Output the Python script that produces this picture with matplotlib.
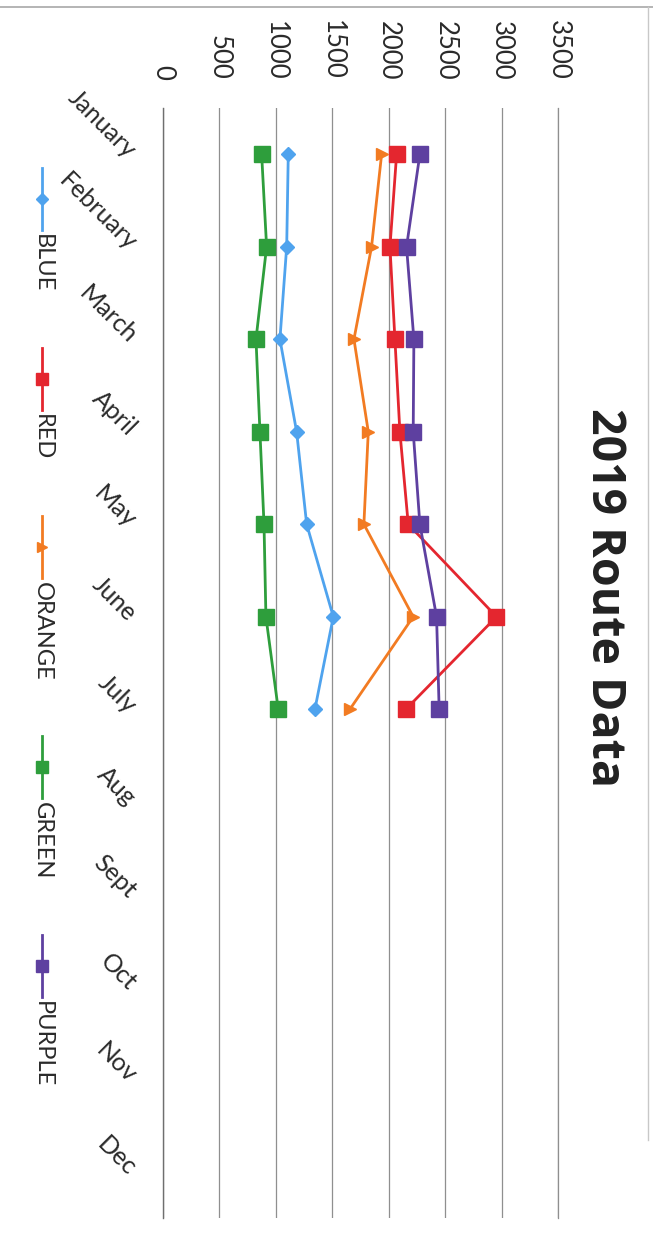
import matplotlib
matplotlib.use("Agg")
import matplotlib.pyplot as plt
from matplotlib.lines import Line2D

plt.rcParams['font.family'] = ['Lato', 'DejaVu Sans']

months = ['January', 'February', 'March', 'April', 'May', 'June', 'July',
          'Aug', 'Sept', 'Oct', 'Nov', 'Dec']
series_names = ['BLUE', 'RED', 'ORANGE', 'GREEN', 'PURPLE']
blue = [1110, 1096, 1036, 1184, 1273, 1509, 1346]
red = [2070, 2011, 2055, 2099, 2173, 2955, 2152]
orange = [1937, 1848, 1692, 1819, 1780, 2217, 1656]
green = [874, 918, 824, 859, 895, 912, 1021]
purple = [2276, 2158, 2223, 2217, 2276, 2424, 2447]
value_ticks = [0, 500, 1000, 1500, 2000, 2500, 3000, 3500]
title = '2019 Route Data'

values = [blue, red, orange, green, purple]
colors = ['#4FA3EE', '#E4262F', '#F27B22', '#2E9E3C', '#5E40A0']
markers = ['D', 's', '>', 's', 's']
msizes = [7, 11, 9, 11, 11]

W, H = 653, 1235
fig = plt.figure(figsize=(W / 100, H / 100), dpi=100)
fig.patch.set_facecolor('white')

left_px, right_px, top_px, bot_px = 163, 558, 108, 1218
ax = fig.add_axes([left_px / W, 1 - bot_px / H, (right_px - left_px) / W, (bot_px - top_px) / H])

for vals, c, m, ms in zip(values, colors, markers, msizes):
    ax.plot(vals, range(len(vals)), color=c, lw=2.0, marker=m, ms=ms,
            markeredgecolor=c, zorder=3)

ax.set_xlim(value_ticks[0], value_ticks[-1])
ax.set_ylim(len(months) - 0.5, -0.5)
ax.set_xticks(value_ticks)
ax.xaxis.set_ticks_position('top')
ax.set_xticklabels([str(v) for v in value_ticks], rotation=-90, fontsize=18.5,
                   color='#2a2a2a')
for lab in ax.get_xticklabels():
    lab.set_ha('center')
    lab.set_va('bottom')
ax.tick_params(axis='x', length=0, pad=20)

ax.set_yticks(range(len(months)))
ax.set_yticklabels(months, rotation=-45, ha='right', va='center',
                   rotation_mode='anchor', fontsize=18, color='#2a2a2a')
ax.tick_params(axis='y', length=0, pad=22)

ax.grid(axis='x', color='#8f8f8f', lw=0.9)
ax.set_axisbelow(True)
for s in ['top', 'bottom']:
    ax.spines[s].set_visible(False)
ax.spines['right'].set_color('#8f8f8f')
ax.spines['right'].set_linewidth(0.9)
ax.spines['left'].set_color('#6f6f6f')
ax.spines['left'].set_linewidth(1.0)

fig.text(604 / W, 1 - 598 / H, title, rotation=-90, ha='center', va='center',
         fontsize=33.5, fontweight='bold', color='#222222',
         family=['Open Sans', 'DejaVu Sans'])

# border decorations of the scanned chart area
fig.add_artist(Line2D([0, 1], [1 - 7 / H, 1 - 7 / H], transform=fig.transFigure,
                      color='#a8a8a8', lw=1.2))
fig.add_artist(Line2D([648 / W, 648 / W], [1 - 7 / H, 1 - 1140 / H],
                      transform=fig.transFigure, color='#c8c8c8', lw=1.0))

# manual rotated legend
fig.canvas.draw()
renderer = fig.canvas.get_renderer()
leg_x = 42 / W
handle_len = 62
text_gap = 4
start_px, end_px = 168, 1087
texts = []
for name in series_names:
    t = fig.text(leg_x, 0.5, name, rotation=-90, ha='center', va='top',
                 fontsize=17, color='#2a2a2a')
    texts.append(t)
heights = [t.get_window_extent(renderer).height for t in texts]
total = sum(heights) + len(texts) * (handle_len + text_gap)
gap = (end_px - start_px - total) / (len(texts) - 1)
y = start_px
for t, h, c, m, ms in zip(texts, heights, colors, markers, msizes):
    y0, y1 = y, y + handle_len
    fig.add_artist(Line2D([leg_x, leg_x], [1 - y0 / H, 1 - y1 / H],
                          transform=fig.transFigure, color=c, lw=2.0))
    fig.add_artist(Line2D([leg_x], [1 - (y0 + y1) / 2 / H], transform=fig.transFigure,
                          color=c, marker=m, ms=ms * 0.85, markeredgecolor=c, lw=0))
    t.set_position((leg_x, 1 - (y1 + text_gap) / H))
    y = y1 + text_gap + h + gap

fig.savefig('out.png', dpi=100, facecolor='white')
